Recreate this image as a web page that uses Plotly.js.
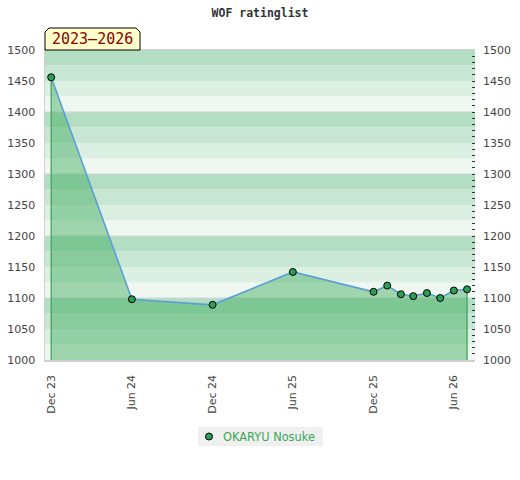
<!DOCTYPE html>
<html>
<head>
<meta charset="utf-8">
<script src="https://cdn.plot.ly/plotly-3.0.1.min.js"></script>
<style>html,body{margin:0;padding:0;background:#fff;}#chart{width:520px;height:480px;}</style>
</head>
<body>
<div id="chart"></div>
<script>
// ---- data ----
const playerName = 'OKARYU Nosuke';
const chartTitle = 'WOF ratinglist';
const periodLabel = '2023–2026';
const dates = ['2023-12-01','2024-06-01','2024-12-01','2025-06-01','2025-12-01','2026-01-01','2026-02-01','2026-03-01','2026-04-01','2026-05-01','2026-06-01','2026-07-01'];
const ratings = [1456,1098,1089,1142,1110,1120,1106,1103,1108,1100,1112,1114];
const yMin = 1000, yMax = 1500;

// pixel -> paper helpers (plot area: x 45..475, y 50..360)
const PX = p => (p - 45) / 430;
const PY = p => (360 - p) / 310;

// ---- background bands ----
const bandColors = {0:'#eff7f1',25:'#dcefe3',50:'#c8e6d4',75:'#b3dec4'};
const shapes = [];
for (let v = yMin; v < yMax; v += 25) {
  shapes.push({type:'rect', xref:'paper', yref:'y', x0:0, x1:1, y0:v, y1:v+25,
    fillcolor: bandColors[v % 100], line:{width:0}, layer:'below'});
}
for (let v = yMin + 100; v < yMax; v += 100) {
  shapes.push({type:'line', xref:'paper', yref:'y', x0:0, x1:1, y0:v, y1:v,
    line:{color:'#d2d6d3', width:1.2}, layer:'below'});
}
// label box with cut corners (paper coords)
const bx0 = 0, bx1 = PX(140), by0 = 1.0, by1 = PY(28), cx = 4/430, cy = 4/310;
shapes.push({type:'path', xref:'paper', yref:'paper',
  path:`M ${bx0},${by0} L ${bx0},${by1-cy} L ${bx0+cx},${by1} L ${bx1-cx},${by1} L ${bx1},${by1-cy} L ${bx1},${by0} Z`,
  fillcolor:'#ffffcc', line:{color:'#000', width:1}, layer:'above'});
// legend box and symbol
shapes.push({type:'rect', xref:'paper', yref:'paper', x0:PX(198), x1:PX(323), y0:PY(446), y1:PY(427),
  fillcolor:'#f0f0f0', line:{width:0}, layer:'below'});
shapes.push({type:'circle', xref:'paper', yref:'paper', xsizemode:'pixel', ysizemode:'pixel',
  xanchor:PX(209), yanchor:PY(436.5), x0:-3.5, x1:3.5, y0:-3.5, y1:3.5,
  fillcolor:'#2f9e55', line:{color:'#000', width:1}, layer:'above'});

const n = dates.length;
const traces = [
  { // fill area
    x: [dates[0]].concat(dates, [dates[n-1]]),
    y: [yMin].concat(ratings, [yMin]),
    type:'scatter', mode:'lines', fill:'toself',
    fillcolor:'rgba(60,170,90,0.45)', line:{width:0}, hoverinfo:'skip'
  },
  { // edge verticals
    x: [dates[0], dates[0], null, dates[n-1], dates[n-1]],
    y: [yMin, ratings[0], null, yMin, ratings[n-1]],
    type:'scatter', mode:'lines', line:{color:'#3d9f55', width:1.2}, hoverinfo:'skip'
  },
  { // line
    x: dates, y: ratings, type:'scatter', mode:'lines',
    line:{color:'#5b9fd6', width:1.6}
  },
  { // markers
    x: dates, y: ratings, type:'scatter', mode:'markers', name: playerName,
    marker:{color:'#2f9e55', size:7, line:{color:'#000', width:1}}
  },
  { // right axis helper
    x: dates, y: ratings, yaxis:'y2', type:'scatter', mode:'markers',
    marker:{opacity:0}, hoverinfo:'skip'
  }
];

const tickFont = {family:'DejaVu Sans, sans-serif', size:11, color:'#444'};
const layout = {
  width:520, height:480,
  margin:{l:45, r:45, t:50, b:120},
  paper_bgcolor:'#fff', plot_bgcolor:'#fff',
  showlegend:false,
  title:{text: chartTitle, x:0.5, xanchor:'center', y:1-13/480, yanchor:'middle',
    font:{family:'DejaVu Sans Mono, monospace', size:11.5, color:'#333', weight:'bold'}},
  xaxis:{type:'date', range:['2023-11-17','2026-07-19'], tick0:'2023-12-01', dtick:'M6',
    tickformat:'%b %y', tickangle:-90, tickfont:tickFont, showgrid:false, zeroline:false,
    showline:true, linecolor:'#d0d0d0', linewidth:1.5, mirror:true, ticks:'', ticklabelstandoff:9, fixedrange:true},
  yaxis:{range:[yMin, yMax], dtick:50, tickfont:tickFont, showgrid:false, zeroline:false,
    showline:true, linecolor:'#d0d0d0', linewidth:1.5, ticks:'', ticklen:0, ticklabelstandoff:6, fixedrange:true},
  yaxis2:{range:[yMin, yMax], dtick:50, overlaying:'y', side:'right', tickfont:tickFont,
    showgrid:false, zeroline:false, showline:false, ticks:'inside', ticklen:3, tickcolor:'#333',
    ticklabelstandoff:7,
    minor:{dtick:10, ticks:'inside', ticklen:3, tickcolor:'#333'}, fixedrange:true},
  shapes: shapes,
  annotations:[
    {text: periodLabel, xref:'paper', yref:'paper', x:(bx0+bx1)/2, y:(by0+by1)/2,
      xanchor:'center', yanchor:'middle', showarrow:false,
      font:{family:'DejaVu Sans Mono, monospace', size:15, color:'#8b0000'}},
    {text: playerName, xref:'paper', yref:'paper', x:PX(221), y:PY(436.5),
      xanchor:'left', yanchor:'middle', showarrow:false,
      font:{family:'DejaVu Sans, sans-serif', size:11.4, color:'#3aa655'}}
  ]
};

Plotly.newPlot('chart', traces, layout, {displayModeBar:false, staticPlot:true});
</script>
</body>
</html>
